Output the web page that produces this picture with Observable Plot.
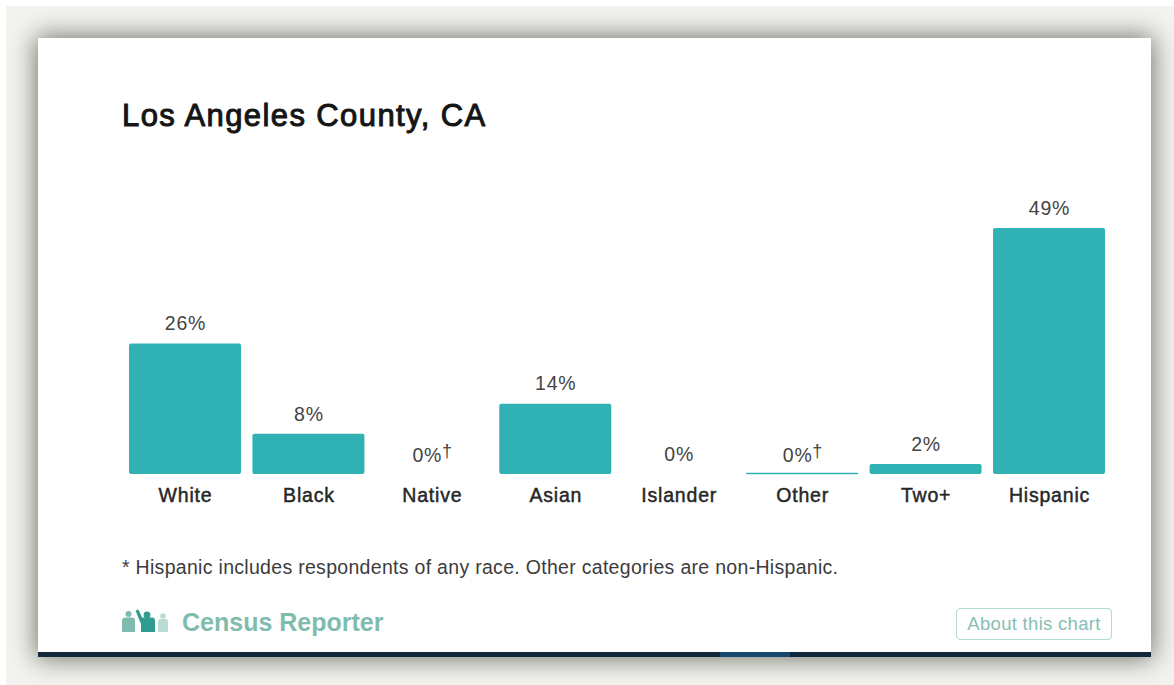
<!DOCTYPE html>
<html>
<head>
<meta charset="utf-8">
<script src="https://cdn.jsdelivr.net/npm/d3@7"></script>
<script src="https://cdn.jsdelivr.net/npm/@observablehq/plot@0.6"></script>
<style>
  html, body { margin: 0; padding: 0; background: #fff; }
  body { position: relative; width: 1174px; height: 685px; overflow: hidden; font-family: "Liberation Sans", Arial, sans-serif; }
  #panel { position: absolute; left: 6px; top: 6px; width: 1168px; height: 679px; background: #f3f4ef; overflow: hidden; }
  #card { position: absolute; left: 32px; top: 32px; width: 1113px; height: 614px; background: #fff; border-bottom: 5px solid #12293b; box-shadow: 0 0 24px 2px rgba(65, 65, 55, .72); }
  #accent { position: absolute; left: 720px; top: 652px; width: 70px; height: 5px; background: #17466e; }
  #title { position: absolute; left: 122px; top: 97px; font-size: 31px; line-height: 38px; color: #151515; -webkit-text-stroke: 1px #151515; letter-spacing: 1.4px; white-space: nowrap; }
  #note { position: absolute; left: 122px; top: 556px; font-size: 19.5px; line-height: 22px; color: #3c3c3c; letter-spacing: .3px; white-space: nowrap; }
  #brand { position: absolute; left: 182px; top: 606px; font-size: 25px; line-height: 32px; font-weight: 700; color: #7fbcae; white-space: nowrap; }
  #logo { position: absolute; left: 120px; top: 608px; }
  #about { position: absolute; left: 956px; top: 608px; width: 154px; height: 30px; border: 1.5px solid #b5dbd5; border-radius: 4px; font-size: 18.5px; line-height: 30px; letter-spacing: .3px; text-align: center; color: #88bdb4; white-space: nowrap; }
  #chart { position: absolute; left: 0; top: 0; }
  #chart svg { display: block; background: transparent; }
  #chart svg [aria-label="x-axis tick label"] text { stroke: #262626; stroke-width: .45px; }
</style>
</head>
<body>
<div id="panel"><div id="card"></div></div>
<div id="accent"></div>
<div id="chart"></div>
<div id="title">Los Angeles County, CA</div>
<div id="note">* Hispanic includes respondents of any race. Other categories are non-Hispanic.</div>
<svg id="logo" width="54" height="26" viewBox="0 0 54 26">
  <g fill="#7fbcae"><circle cx="8.500" cy="6" r="3"/><path d="M2 24V12.500q0-3 3-3h7q3 0 3 3V24z"/></g>
  <g fill="#2f9c8f"><circle cx="27" cy="7" r="3.400"/><path d="M15.500 2.500l3-1 3.500 8h10q3 0 3 3V24H21V16z"/></g>
  <g fill="#b9dcd4"><circle cx="43" cy="8" r="2.800"/><path d="M38 24V14q0-3 3-3h4q3 0 3 3v10z"/></g>
</svg>
<div id="brand">Census Reporter</div>
<div id="about">About this chart</div>

<script>
// Population share by race and ethnicity, Los Angeles County
const categories = ["White", "Black", "Native", "Asian", "Islander", "Other", "Two+", "Hispanic"];
const shares = [26, 8, 0, 14, 0, 0, 2, 49];
const daggered = ["Native", "Other"];
const hairlineCategories = ["Other"];

const rows = categories.map((category, i) => ({category, share: shares[i]}));
const plainRows = rows.filter(d => !daggered.includes(d.category));
const daggerRows = rows.filter(d => daggered.includes(d.category));
const teal = "#30b2b5";
const labelStyle = {fontSize: 19.5, fill: "#444444"};

const chart = Plot.plot({
  width: 1174,
  height: 685,
  marginTop: 0, marginRight: 0, marginBottom: 0, marginLeft: 0,
  style: {background: "transparent", fontFamily: "'Liberation Sans', Arial, sans-serif", letterSpacing: ".8px"},
  x: {domain: categories, range: [129, 1105], paddingInner: 0.0926, paddingOuter: 0, align: 0.5, round: false, axis: null},
  y: {domain: [0, 49], range: [474, 228], axis: null},
  marks: [
    Plot.barY(rows, {x: "category", y: "share", fill: teal, r: 2}),
    // Zero-rounded group that still registers a sliver of population
    Plot.tickY(hairlineCategories, {x: d => d, y: () => 0, dy: -1, stroke: teal, strokeWidth: 1.5}),
    Plot.text(plainRows, {x: "category", y: "share", text: d => `${d.share}%`, dy: -20, ...labelStyle}),
    Plot.text(daggerRows, {x: "category", y: "share", text: d => `${d.share}%`, dy: -19, dx: -5, ...labelStyle}),
    Plot.text(daggerRows, {x: "category", y: "share", text: () => "†", dy: -23, dx: 15, fontSize: 18, fill: "#444444"}),
    Plot.axisX({
      anchor: "bottom", y: 0, tickSize: 0, tickPadding: 0,
      label: null, fontSize: 19.5, fill: "#262626", dy: 21, textAnchor: "middle",
      lineAnchor: "middle"
    })
  ]
});
document.getElementById("chart").append(chart);
</script>
</body>
</html>
